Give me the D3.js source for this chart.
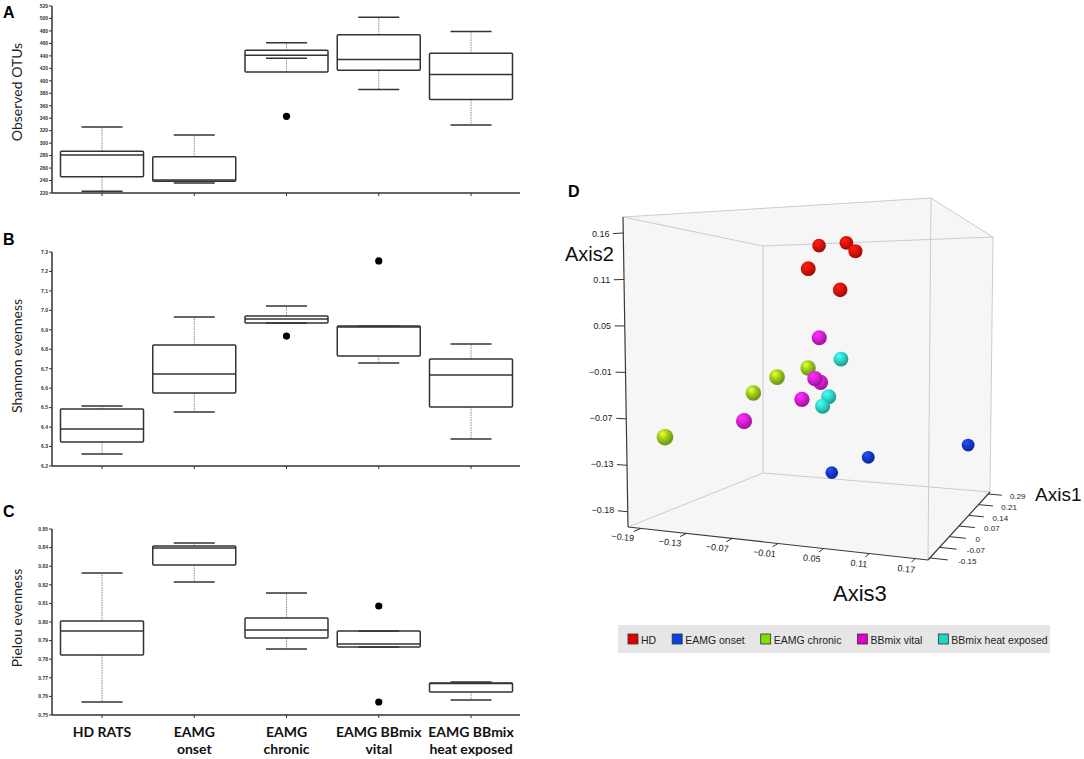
<!DOCTYPE html>
<html>
<head>
<meta charset="utf-8">
<script src="https://cdn.jsdelivr.net/npm/d3@7"></script>
<style>
  body { margin: 0; background: #fff; }
  svg { display: block; }
</style>
</head>
<body>
<div id="chart"></div>
<script>
// ---- box plot data: [lower whisker, q1, median, q3, upper whisker] ----
const groups = ["HD RATS", "EAMG onset", "EAMG chronic", "EAMG BBmix vital", "EAMG BBmix heat exposed"];
const groupLabels = [["HD RATS"], ["EAMG", "onset"], ["EAMG", "chronic"], ["EAMG BBmix", "vital"], ["EAMG BBmix", "heat exposed"]];

const otuStats = [[223, 246, 281, 287, 326], [236, 239, 241, 278, 313], [436, 414, 441, 449, 461], [386, 417, 434, 474, 502], [329, 370, 410, 444, 479]];
const otuOutliers = [[], [], [343], [], []];
const otuTicks = [220, 240, 260, 280, 300, 320, 340, 360, 380, 400, 420, 440, 460, 480, 500, 520];

const shannonStats = [[6.262, 6.323, 6.39, 6.493, 6.508], [6.478, 6.575, 6.673, 6.822, 6.966], [6.935, 6.935, 6.956, 6.971, 7.023], [6.73, 6.766, 6.915, 6.92, 6.918], [6.339, 6.503, 6.668, 6.75, 6.827]];
const shannonOutliers = [[], [], [6.868], [7.254], []];
const shannonTicks = [6.2, 6.3, 6.4, 6.5, 6.6, 6.7, 6.8, 6.9, 7.0, 7.1, 7.2, 7.3];

const pielouStats = [[0.757, 0.7823, 0.7952, 0.8005, 0.8263], [0.8215, 0.8306, 0.8398, 0.8409, 0.8425], [0.7855, 0.7914, 0.7957, 0.8022, 0.8156], [0.7866, 0.7866, 0.7882, 0.7952, 0.7952], [0.758, 0.7623, 0.767, 0.7672, 0.7677]];
const pielouOutliers = [[], [], [], [0.8086, 0.757], []];
const pielouTicks = [0.75, 0.76, 0.77, 0.78, 0.79, 0.80, 0.81, 0.82, 0.83, 0.84, 0.85];

// ---- PCoA data ----
const pcoaGroups = ["HD", "EAMG onset", "EAMG chronic", "BBmix vital", "BBmix heat exposed"];
const pcoaColors = ["#e3120b", "#1538d6", "#9fd11b", "#e01fdc", "#2fded0"];
const legendColors = ["#e00000", "#0a3fe0", "#80de00", "#e000c8", "#1ed6c4"];
// each point: group index, axis1, axis2, axis3
const pcoaGroup = [0, 0, 0, 0, 0, 1, 1, 1, 2, 2, 2, 2, 3, 3, 3, 3, 3, 4, 4, 4];
const pcoaAxis1 = [0.210, 0.187, 0.164, 0.093, 0.117, 0.300, 0.281, 0.281, 0.047, 0.023, 0.047, -0.070, 0.070, 0.047, 0.070, 0.047, -0.024, 0.093, 0.070, 0.070];
const pcoaAxis2 = [0.170, 0.170, 0.155, 0.127, 0.098, -0.192, -0.159, -0.130, -0.008, -0.020, -0.044, -0.098, 0.032, -0.022, -0.028, -0.050, -0.076, 0.003, -0.047, -0.060];
const pcoaAxis3 = [-0.072, -0.020, 0.002, -0.046, -0.006, -0.086, -0.016, 0.154, -0.031, -0.068, -0.111, -0.192, -0.022, -0.021, -0.020, -0.040, -0.099, 0.003, -0.008, -0.017];

const axis1Ticks = [-0.15, -0.077, -0.003, 0.07, 0.143, 0.217, 0.29];
const axis1Labels = ["-0.15", "-0.07", "0", "0.07", "0.14", "0.21", "0.29"];
const axis2Ticks = [-0.184, -0.126, -0.068, -0.010, 0.048, 0.106, 0.164];
const axis3Ticks = [-0.19, -0.13, -0.07, -0.01, 0.05, 0.11, 0.17];

const width = 1084, height = 759;
const svg = d3.select("#chart").append("svg")
    .attr("width", width)
    .attr("height", height)
    .style("font-family", "'Liberation Sans', Arial, sans-serif");

// ================= box plots =================
const axisX = 52, axisEnd = 520;
const x = d3.scalePoint().domain(groups).range([102, 471]);
const boxW = 83, capW = 41;

function drawBoxPanel(cfg) {
    let y = d3.scaleLinear().domain(cfg.domain).range([cfg.bottom, cfg.top]);
    let g = svg.append("g");
    let ink = "#333";

    // panel letter
    g.append("text")
        .attr("x", 3).attr("y", cfg.letterY)
        .style("font-size", "16px").style("font-weight", "bold")
        .text(cfg.letter);

    // y title
    g.append("text")
        .attr("transform", "translate(22," + cfg.titleY + ") rotate(-90)")
        .attr("text-anchor", "middle")
        .style("font-family", "Lato, 'Open Sans', sans-serif")
        .style("font-size", "14px")
        .attr("fill", "#222")
        .text(cfg.title);

    // y axis
    g.append("line")
        .attr("x1", axisX).attr("x2", axisX)
        .attr("y1", y(cfg.domain[0])).attr("y2", y(cfg.domain[1]))
        .attr("stroke", ink).attr("stroke-width", 1.5);
    let fmt = d3.format(cfg.fmt);
    cfg.ticks.forEach(function (t) {
        g.append("line")
            .attr("x1", axisX - 3).attr("x2", axisX)
            .attr("y1", y(t)).attr("y2", y(t))
            .attr("stroke", ink).attr("stroke-width", 1);
        g.append("text")
            .attr("x", axisX - 4).attr("y", y(t) + 1.8)
            .attr("text-anchor", "end")
            .style("font-size", "5px").style("font-weight", "bold")
            .attr("fill", "#333")
            .text(fmt(t));
    });

    // x axis
    g.append("line")
        .attr("x1", axisX).attr("x2", axisEnd)
        .attr("y1", y(cfg.domain[0])).attr("y2", y(cfg.domain[0]))
        .attr("stroke", ink).attr("stroke-width", 1.5);
    groups.forEach(function (d) {
        g.append("line")
            .attr("x1", x(d)).attr("x2", x(d))
            .attr("y1", y(cfg.domain[0])).attr("y2", y(cfg.domain[0]) + 3)
            .attr("stroke", ink).attr("stroke-width", 1);
    });

    // boxes
    cfg.stats.forEach(function (s, i) {
        let cx = x(groups[i]);
        // whiskers (dotted)
        g.append("line")
            .attr("x1", cx).attr("x2", cx)
            .attr("y1", y(s[3])).attr("y2", y(s[4]))
            .attr("stroke", "#8a8a8a").attr("stroke-width", 1)
            .attr("stroke-dasharray", "1.5,1");
        g.append("line")
            .attr("x1", cx).attr("x2", cx)
            .attr("y1", y(s[1])).attr("y2", y(s[0]))
            .attr("stroke", "#8a8a8a").attr("stroke-width", 1)
            .attr("stroke-dasharray", "1.5,1");
        // box
        g.append("rect")
            .attr("x", cx - boxW / 2).attr("y", y(s[3]))
            .attr("width", boxW).attr("height", Math.max(1, y(s[1]) - y(s[3])))
            .attr("fill", "none").attr("stroke", ink).attr("stroke-width", 1.5)
            .attr("rx", 1);
        // median
        g.append("line")
            .attr("x1", cx - boxW / 2).attr("x2", cx + boxW / 2)
            .attr("y1", y(s[2])).attr("y2", y(s[2]))
            .attr("stroke", ink).attr("stroke-width", 1.5);
        // caps
        [s[0], s[4]].forEach(function (v) {
            g.append("line")
                .attr("x1", cx - capW / 2).attr("x2", cx + capW / 2)
                .attr("y1", y(v)).attr("y2", y(v))
                .attr("stroke", ink).attr("stroke-width", 1.5);
        });
        // outliers
        cfg.outliers[i].forEach(function (v) {
            g.append("circle")
                .attr("cx", cx).attr("cy", y(v)).attr("r", 3.6)
                .attr("fill", "#000");
        });
    });
    return y;
}

drawBoxPanel({ letter: "A", letterY: 18, title: "Observed OTUs", titleY: 92, domain: [220, 520], bottom: 193, top: 6, ticks: otuTicks, fmt: "d", stats: otuStats, outliers: otuOutliers });
drawBoxPanel({ letter: "B", letterY: 245, title: "Shannon evenness", titleY: 356, domain: [6.2, 7.3], bottom: 466, top: 252, ticks: shannonTicks, fmt: ".1f", stats: shannonStats, outliers: shannonOutliers });
drawBoxPanel({ letter: "C", letterY: 517, title: "Pielou evenness", titleY: 618, domain: [0.75, 0.85], bottom: 715, top: 529, ticks: pielouTicks, fmt: ".2f", stats: pielouStats, outliers: pielouOutliers });

// category labels under panel C
groupLabels.forEach(function (lines, i) {
    lines.forEach(function (l, j) {
        svg.append("text")
            .attr("x", x(groups[i])).attr("y", 737 + j * 17)
            .attr("text-anchor", "middle")
            .style("font-family", "Lato, 'Open Sans', sans-serif")
            .style("font-size", "14px").style("font-weight", "bold")
            .attr("fill", "#111")
            .text(l);
    });
});

// ================= 3D PCoA =================
const ax1 = d3.scaleLinear().domain([-0.164, 0.304]).range([0, 1]);
const ax2 = d3.scaleLinear().domain([-0.203, 0.184]).range([0, 1]);
const ax3 = d3.scaleLinear().domain([-0.207, 0.187]).range([0, 1]);
const rScale = d3.scaleLinear().domain([-0.164, 0.304]).range([8.8, 6.3]);

// screen corners of the box: F = bottom, T = top; 0 front-left, 1 front-right, 2 back-right, 3 back-left
const box = {
    F0: [628, 527], F1: [928, 560], F2: [990, 492], F3: [763, 473],
    T0: [623, 217], T1: [931, 198], T2: [993, 237], T3: [763, 246]
};
function lerp(a, b, t) { return [a[0] + (b[0] - a[0]) * t, a[1] + (b[1] - a[1]) * t]; }
function project(a1, a2, a3) {
    let u = ax3(a3), v = ax2(a2), w = ax1(a1);
    let bl = lerp(box.F0, box.F3, w), br = lerp(box.F1, box.F2, w);
    let tl = lerp(box.T0, box.T3, w), tr = lerp(box.T1, box.T2, w);
    let b = lerp(bl, br, u), t = lerp(tl, tr, u);
    return lerp(b, t, v);
}
const d1 = ax1.domain(), d2 = ax2.domain(), d3d = ax3.domain();

const g3 = svg.append("g");
// pane background
g3.append("polygon")
    .attr("points", [box.T0, box.T1, box.T2, box.F2, box.F1, box.F0].map(p => p.join(",")).join(" "))
    .attr("fill", "#f6f6f6");

const edges = [["T0", "T1"], ["T1", "T2"], ["T2", "T3"], ["T3", "T0"], ["F2", "F3"], ["F3", "F0"], ["T1", "F1"], ["T2", "F2"], ["T3", "F3"]];
edges.forEach(function (e) {
    g3.append("line")
        .attr("x1", box[e[0]][0]).attr("y1", box[e[0]][1])
        .attr("x2", box[e[1]][0]).attr("y2", box[e[1]][1])
        .attr("stroke", "#cccccc").attr("stroke-width", 1);
});
[["F0", "F1"], ["F1", "F2"], ["T0", "F0"]].forEach(function (e) {
    g3.append("line")
        .attr("x1", box[e[0]][0]).attr("y1", box[e[0]][1])
        .attr("x2", box[e[1]][0]).attr("y2", box[e[1]][1])
        .attr("stroke", "#3a3a3a").attr("stroke-width", 1.2);
});

// axis2 ticks (left edge), pointing along -axis3
const du3 = d3d[1] - d3d[0], du1 = d1[1] - d1[0];
axis2Ticks.forEach(function (t) {
    let p0 = project(d1[0], t, d3d[0]);
    let p1 = project(d1[0], t, d3d[0] - 0.033 * du3);
    let pl = project(d1[0], t, d3d[0] - 0.045 * du3);
    g3.append("line").attr("x1", p0[0]).attr("y1", p0[1]).attr("x2", p1[0]).attr("y2", p1[1])
        .attr("stroke", "#333").attr("stroke-width", 1);
    g3.append("text").attr("x", pl[0]).attr("y", pl[1] + 3)
        .attr("text-anchor", "end").style("font-size", "9px").attr("fill", "#222")
        .text(d3.format(".2f")(t));
});
// axis3 ticks (bottom front edge), pointing along -axis1
axis3Ticks.forEach(function (t) {
    let p0 = project(d1[0], d2[0], t);
    let p1 = project(d1[0] - 0.055 * du1, d2[0], t);
    let pl = project(d1[0] - 0.14 * du1, d2[0], t);
    g3.append("line").attr("x1", p0[0]).attr("y1", p0[1]).attr("x2", p1[0]).attr("y2", p1[1])
        .attr("stroke", "#333").attr("stroke-width", 1);
    g3.append("text")
        .attr("transform", "translate(" + pl[0] + "," + (pl[1] + 4) + ") rotate(6)")
        .attr("text-anchor", "middle").style("font-size", "9px").attr("fill", "#222")
        .text(d3.format(".2f")(t));
});
// axis1 ticks (bottom right edge), pointing along +axis3
axis1Ticks.forEach(function (t, i) {
    let p0 = project(t, d2[0], d3d[1]);
    let p1 = project(t, d2[0], d3d[1] + 0.06 * du3);
    let pl = project(t, d2[0], d3d[1] + 0.095 * du3);
    g3.append("line").attr("x1", p0[0]).attr("y1", p0[1]).attr("x2", p1[0]).attr("y2", p1[1])
        .attr("stroke", "#333").attr("stroke-width", 1);
    g3.append("text").attr("x", pl[0]).attr("y", pl[1] + 3)
        .attr("text-anchor", "start").style("font-size", "8px").attr("fill", "#222")
        .text(axis1Labels[i]);
});

// axis titles
g3.append("text").attr("x", 565).attr("y", 261).style("font-size", "20px").attr("fill", "#111").text("Axis2");
g3.append("text").attr("x", 1035).attr("y", 501).style("font-size", "19px").attr("fill", "#111").text("Axis1");
g3.append("text").attr("x", 833).attr("y", 601).style("font-size", "22px").attr("fill", "#111").text("Axis3");
svg.append("text").attr("x", 568).attr("y", 197)
    .style("font-size", "16px").style("font-weight", "bold").text("D");

// sphere gradients
const defs = svg.append("defs");
pcoaColors.forEach(function (c, i) {
    let grad = defs.append("radialGradient").attr("id", "sph" + i)
        .attr("cx", "0.4").attr("cy", "0.35").attr("r", "0.65")
        .attr("fx", "0.35").attr("fy", "0.28");
    grad.append("stop").attr("offset", "0%").attr("stop-color", d3.color(c).brighter(1.3).formatHex());
    grad.append("stop").attr("offset", "45%").attr("stop-color", c);
    grad.append("stop").attr("offset", "100%").attr("stop-color", d3.color(c).darker(1.1).formatHex());
});

const pts = pcoaGroup.map(function (gi, i) {
    return { g: gi, a1: pcoaAxis1[i], a2: pcoaAxis2[i], a3: pcoaAxis3[i] };
});
pts.sort(function (a, b) { return b.a1 - a.a1; });
g3.selectAll("circle.sphere").data(pts).enter().append("circle")
    .attr("class", "sphere")
    .attr("cx", d => project(d.a1, d.a2, d.a3)[0])
    .attr("cy", d => project(d.a1, d.a2, d.a3)[1])
    .attr("r", d => rScale(d.a1))
    .attr("fill", d => "url(#sph" + d.g + ")");

// legend
const lg = svg.append("g");
lg.append("rect").attr("x", 618).attr("y", 625).attr("width", 432).attr("height", 28).attr("fill", "#e6e6e6");
let lx = 628;
pcoaGroups.forEach(function (name, i) {
    lg.append("rect").attr("x", lx).attr("y", 634).attr("width", 10).attr("height", 10)
        .attr("fill", legendColors[i]).attr("stroke", "#333").attr("stroke-width", 0.8);
    let t = lg.append("text").attr("x", lx + 13).attr("y", 643.5)
        .style("font-size", "10.5px").attr("fill", "#222").text(name);
    lx += 13 + t.node().getComputedTextLength() + 16;
});
</script>
</body>
</html>
